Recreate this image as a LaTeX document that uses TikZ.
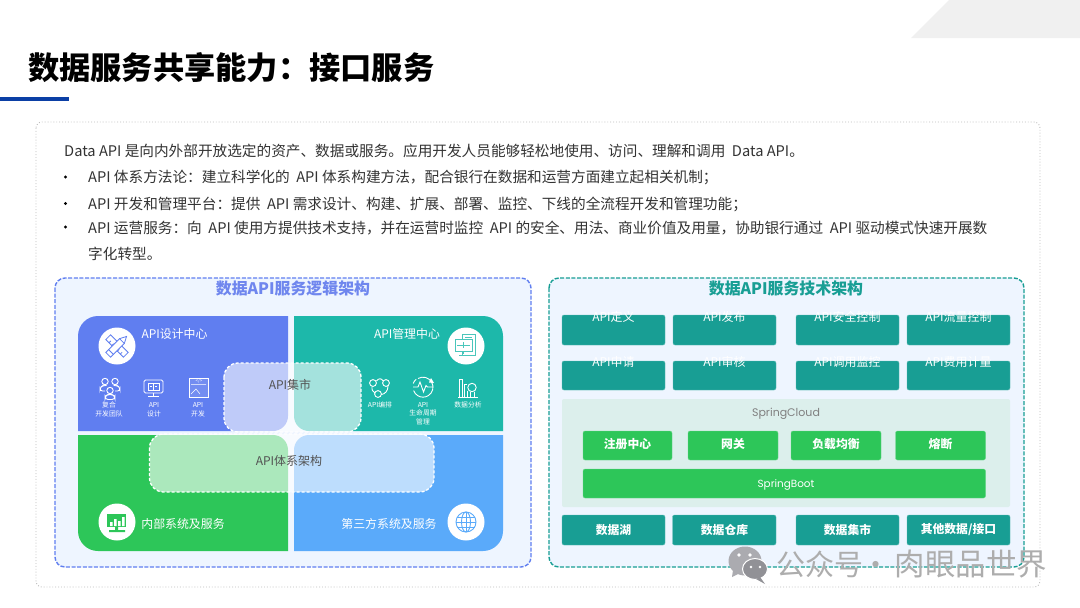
\documentclass[tikz,border=0pt]{standalone}
\usepackage{fontspec}
\setmainfont{Noto Sans CJK SC}
\newfontfamily\latinf{Poppins}
\usetikzlibrary{shapes.geometric}
\definecolor{cInk}{HTML}{333333}
\definecolor{cBar}{HTML}{0B3FA5}
\definecolor{cCorner}{HTML}{F0F0F0}
\definecolor{cFrame}{HTML}{BDBDBD}
\definecolor{cPanel}{HTML}{EEF5FF}
\definecolor{cViolet}{HTML}{607EF0}
\definecolor{cVioletT}{HTML}{6F86EE}
\definecolor{cAqua}{HTML}{1DB8AA}
\definecolor{cGreen}{HTML}{2DC659}
\definecolor{cSky}{HTML}{5AAAFA}
\definecolor{cTeal}{HTML}{189E94}
\definecolor{cMint}{HTML}{DCEFEC}
\definecolor{cMark}{HTML}{ABABB0}
\tikzset{
  fs/.style={font=\fontsize{#1}{#1}\selectfont},
  bodytext/.style={anchor=west,text=cInk,inner sep=0pt,fs=14.65},
  bullet/.style={circle,fill=black,inner sep=0pt,minimum size=3.4pt},
  panelbox/.style={rounded corners=10,fill=cPanel,dashed,dash pattern=on 4pt off 1.6pt,line width=1.4pt},
  paneltitle/.style={inner sep=0pt,font=\fontsize{15.9}{16}\selectfont\bfseries},
  overlay/.style={rounded corners=14,fill=white,fill opacity=.6,draw=white,dashed,dash pattern=on 3pt off 2pt,line width=1.3pt,draw opacity=1},
  quadlabel/.style={text=white,inner sep=0pt,fs=11.9},
  midlabel/.style={text=cInk!85,inner sep=0pt,fs=12},
  tinylabel/.style={text=white,inner sep=0pt,align=center,font=\fontsize{6.8}{8.6}\selectfont},
  badge/.style={circle,fill=white,minimum size=37pt,inner sep=0pt},
  tealbox/.style={rounded corners=2,fill=cTeal,draw=cTeal!70!white,line width=.4pt},
  greenbox/.style={rounded corners=2,fill=cGreen,draw=cGreen!70!white,line width=.4pt},
  boxlabel/.style={text=white,inner sep=0pt,fs=12},
  boldlabel/.style={text=white,inner sep=0pt,font=\fontsize{11.8}{12}\selectfont\bfseries},
  icon/.style={draw=white,line width=.9pt},
}
\begin{document}
\begin{tikzpicture}[x=1pt,y=-1pt]
\useasboundingbox (0,0) rectangle (1080,608);
\fill[white] (0,0) rectangle (1080,608);
% header
\fill[cCorner] (911,38) -- (949,0) -- (1080,0) -- (1080,38) -- cycle;
\node[anchor=west,inner sep=0pt,font=\fontsize{31.25}{32}\selectfont\bfseries,text=black] (title) at (28,67.6) {数据服务共享能力：接口服务};
\fill[cBar] (0,97) rectangle (69,101);
% frame
\draw[cFrame,dotted,line width=.9pt,fill=white,rounded corners=6] (36,122) rectangle (1040,587);
% text
\node[bodytext] (t0) at (64,150.6) {Data API 是向内外部开放选定的资产、数据或服务。应用开发人员能够轻松地使用、访问、理解和调用\ \ Data API。};
\node[bullet] (b1) at (65.5,177) {};
\node[bodytext] (t1) at (88,177.6) {API 体系方法论：建立科学化的\ \ API 体系构建方法，配合银行在数据和运营方面建立起相关机制；};
\node[bullet] (b2) at (65.5,203.5) {};
\node[bodytext] (t2) at (88,204) {API 开发和管理平台：提供\ \ API 需求设计、构建、扩展、部署、监控、下线的全流程开发和管理功能；};
\node[bullet] (b3) at (65.5,227) {};
\node[bodytext] (t3) at (88,227.6) {API 运营服务：向\ \ API 使用方提供技术支持，并在运营时监控\ \ API 的安全、用法、商业价值及用量，协助银行通过\ \ API 驱动模式快速开展数};
\node[bodytext] (t4) at (88,253.6) {字化转型。};
% left panel
\draw[panelbox,draw=cViolet] (55,278) rectangle (531,567);
\node[paneltitle,text=cVioletT] (ltitle) at (293,288.6) {数据API服务逻辑架构};
% quadrants
\fill[cViolet] (78,431) -- (78,336) arc (180:270:20) -- (288,316) -- (288,416) arc (0:90:15) -- cycle;
\fill[cAqua] (503,431) -- (503,336) arc (0:-90:20) -- (294,316) -- (294,416) arc (180:90:15) -- cycle;
\fill[cGreen] (78,435) -- (78,531) arc (180:90:20) -- (288,551) -- (288,450) arc (0:-90:15) -- cycle;
\fill[cSky] (503,435) -- (503,531) arc (0:90:20) -- (294,551) -- (294,450) arc (180:270:15) -- cycle;
% overlays
\path[overlay] (224,363) rectangle (361,432);
\path[overlay] (149.5,434) rectangle (434,492);
\node[midlabel] (market) at (290,384.6) {API集市};
\node[midlabel] (arch) at (289,460.8) {API体系架构};
% quadrant labels
\node[quadlabel] (q1) at (174.5,333.8) {API设计中心};
\node[quadlabel] (q2) at (407,333.8) {API管理中心};
\node[quadlabel] (q3) at (183,523.6) {内部系统及服务};
\node[quadlabel] (q4) at (389,523.6) {第三方系统及服务};
\node[badge] (c1) at (117,346) {};
\node[badge] (c2) at (466,346) {};
\node[badge] (c3) at (117,522) {};
\node[badge] (c4) at (466,522) {};
% icon: ruler and pencil
\begin{scope}[shift={(c1.center)},draw=cViolet,line width=.8pt]
  \begin{scope}[rotate=45]
    \draw (-3.4,-12.5) rectangle (3.4,12.5);
    \foreach \k in {-8,-4,0,4,8} \draw (-3.4,\k) -- (-.8,\k);
  \end{scope}
  \begin{scope}[rotate=45+90]
    \draw[fill=white] (-3.4,-12.5) -- (3.4,-12.5) -- (3.4,7) -- (0,13.5) -- (-3.4,7) -- cycle;
    \draw (-3.4,-8.5) -- (3.4,-8.5) (-3.4,7) -- (3.4,7);
  \end{scope}
\end{scope}
% icon: monitor and tower
\begin{scope}[draw=cAqua!80!white,line width=.65pt]
  \draw (462,334) rectangle (475,355);
  \draw (465,337) -- (472,337) (465,340) -- (472,340);
  \draw[fill=white] (455,339) rectangle (472,351);
  \draw (457,345) -- (470,345) (463,342) -- (463,348);
  \draw (463,351) -- (463,354) (459,355) -- (468,355);
\end{scope}
% icon: chart monitor
\fill[cGreen] (107,514) rectangle (126,527);
\fill[white] (110,522) rectangle (112.5,526) (114,519) rectangle (116.5,526) (118,521) rectangle (120.5,526) (122,517) rectangle (124.5,526);
\fill[cGreen] (115,527) rectangle (118,530) (109,530) rectangle (125,532);
% icon: globe
\begin{scope}[shift={(c4.center)},draw=cSky,line width=.9pt]
  \draw (0,0) circle (10);
  \draw (0,0) ellipse (4.5 and 10);
  \draw (0,-10) -- (0,10) (-10,0) -- (10,0) (-8.6,-5) -- (8.6,-5) (-8.6,5) -- (8.6,5);
\end{scope}
% white icons, violet quadrant
\draw[icon] (105,381.5) circle (3.2) (115,381.5) circle (3.2) (110,390.5) circle (3.2);
\draw[icon,rounded corners=3] (105,396) -- (105,399.5) -- (115,399.5) -- (115,396) -- (112,394.5) -- (108,394.5) -- cycle;
\draw[icon,rounded corners=2.5] (105,391) -- (100,391) -- (100,387.5) -- (103,385.5) -- (106.5,385.5);
\draw[icon,rounded corners=2.5] (115,391) -- (120,391) -- (120,387.5) -- (117,385.5) -- (113.5,385.5);
\draw[icon,rounded corners=1.5] (144,380) rectangle (163,393);
\draw[draw=white,line width=.7pt] (148,383) rectangle (159,390) (153.5,383) -- (153.5,390) (150,386.5) -- (152,386.5) (155,386.5) -- (157,386.5);
\draw[icon] (153.5,393) -- (153.5,396) (148,396.5) -- (159,396.5);
\draw[draw=white,line width=.6pt,fill=white,fill opacity=.12] (189,378) rectangle (208,397);
\draw[draw=white,line width=.5pt] (191,384.5) -- (206,384.5) (191,394) -- (196,389) -- (200,394);
\node[inner sep=0pt,text=white,font=\fontsize{4.5}{5}\selectfont] (codemark) at (199,381.5) {</>};
% tiny labels
\node[tinylabel] (l1) at (109,409.5) {复合\\开发团队};
\node[tinylabel] (l2) at (154,409.5) {API\\设计};
\node[tinylabel] (l3) at (198,409.5) {API\\开发};
% white icons, aqua quadrant
\draw[icon] (373,383) circle (3.4) (386,383) circle (3.4) (378,394) circle (3.4);
\draw[icon] (376.4,381) .. controls (379,378) and (381,378) .. (383.2,381);
\draw[icon] (388,386) .. controls (388,391) and (385,394) .. (381.4,394.5);
\draw[icon] (372,386.4) .. controls (371.5,390) and (373,392) .. (375,393);
\draw[icon] (418,378.5) arc (-120:160:10);
\draw[icon] (413.2,383.5) arc (200:230:10);
\draw[icon] (413,387) -- (418,387) -- (420,382) -- (423.5,392) -- (426,385.5) -- (427.5,387) -- (433,387);
\fill[white] (431,378) -- (434,383) -- (429,382.5) -- cycle;
\draw[icon] (458,397) -- (478,397);
\draw[icon] (459,396.5) -- (459,379.5) -- (462.5,379.5) -- (462.5,396.5) (464.5,396.5) -- (464.5,384) -- (467,384) (467.5,396.5) -- (467.5,391);
\draw[icon] (472,387.5) circle (4.2);
\draw[icon] (470,392) -- (470,396.5) (474,392) -- (474,396.5);
\node[tinylabel] (l4) at (380,405) {API编排};
\node[tinylabel] (l5) at (423,413.5) {API\\生命周期\\管理};
\node[tinylabel] (l6) at (468,405) {数据分析};
% right panel
\draw[panelbox,draw=cTeal] (549,278) rectangle (1024,567);
\node[paneltitle,text=cTeal] (rtitle) at (786,288.6) {数据API服务技术架构};
% row 1 and 2
\draw[tealbox] (562,315) rectangle (665,345) (673,315) rectangle (776,345) (796,315) rectangle (899,345) (907,315) rectangle (1010,345);
\draw[tealbox] (562,361) rectangle (665,390) (673,361) rectangle (776,390) (796,361) rectangle (899,390) (907,361) rectangle (1010,390);
\node[boxlabel] (a1) at (613.5,316.5) {API定义};
\node[boxlabel] (a2) at (724.5,316.5) {API发布};
\node[boxlabel] (a3) at (847.5,316.5) {API安全控制};
\node[boxlabel] (a4) at (958.5,316.5) {API流量控制};
\node[boxlabel] (a5) at (613.5,362) {API申请};
\node[boxlabel] (a6) at (724.5,362) {API审核};
\node[boxlabel] (a7) at (847.5,362) {API调用监控};
\node[boxlabel] (a8) at (958.5,362) {API费用计量};
% spring cloud
\fill[cMint,rounded corners=2] (562,399) rectangle (1010,507);
\node[inner sep=0pt,text=black!50,font=\latinf\fontsize{11}{12}\selectfont] (sc) at (786,413.5) {SpringCloud};
\draw[greenbox] (583,431) rectangle (672,460) (688,431) rectangle (778,460) (791,431) rectangle (881,460) (895.5,431) rectangle (985.5,460);
\node[boldlabel] (g1) at (627.5,444) {注册中心};
\node[boldlabel] (g2) at (733,444) {网关};
\node[boldlabel] (g3) at (836,444) {负载均衡};
\node[boldlabel] (g4) at (940.5,444) {熔断};
\draw[greenbox] (583,469) rectangle (985.5,498);
\node[inner sep=0pt,text=white,font=\latinf\fontsize{10.4}{12}\selectfont] (sb) at (786,485) {SpringBoot};
% data row
\draw[tealbox] (562,515) rectangle (665,545) (672.5,515) rectangle (776,545) (796,515) rectangle (899,545) (907,515) rectangle (1010,545);
\node[boldlabel] (d1) at (613.5,530) {数据湖};
\node[boldlabel] (d2) at (724.5,530) {数据仓库};
\node[boldlabel] (d3) at (847.5,530) {数据集市};
\node[boldlabel] (d4) at (958.5,530) {其他数据/接口};
% watermark
\fill[cMark] (745,561) ellipse (16.5 and 14.5);
\fill[cMark] (733,570) -- (732,577) -- (740,573) -- cycle;
\draw[white,line width=1pt,fill=cMark!85!black] (755,569) ellipse (12.5 and 10.5);
\fill[cMark!85!black] (760,577) -- (765,584) -- (756,579) -- cycle;
\fill[white] (739,555) circle (1.8) (750,555) circle (1.8) (751,567) circle (1.4) (760,567) circle (1.4);
\node[anchor=west,inner sep=0pt,text=black!32,font=\fontsize{29}{30}\selectfont] (wm) at (776.5,564) {公众号\hspace{-2pt}·\hspace{4pt}{\fontsize{30.5}{30}\selectfont 肉眼品世界}};
\end{tikzpicture}
\end{document}
